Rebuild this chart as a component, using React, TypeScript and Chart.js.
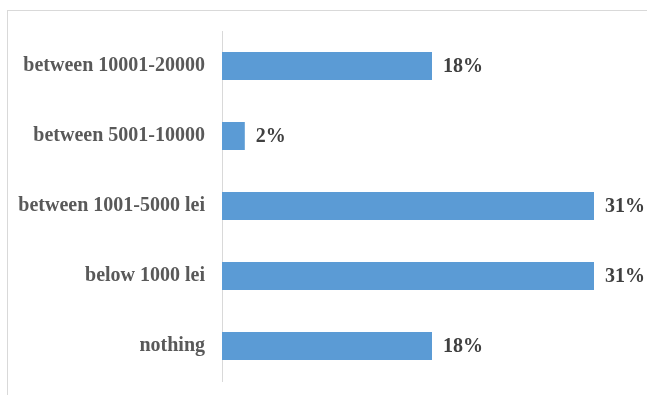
import React, { useEffect, useRef } from "react";
import { Chart, registerables } from "chart.js";

Chart.register(...registerables);

const categories = [
  "between 10001-20000",
  "between 5001-10000",
  "between 1001-5000 lei",
  "below 1000 lei",
  "nothing",
];
const values = [17.5, 1.9, 31.0, 31.0, 17.5];
const valueLabels = ["18%", "2%", "31%", "31%", "18%"];
const axisMax = 35;

const FONT = "'Liberation Serif', 'Times New Roman', serif";

const valueLabelPlugin = {
  id: "valueLabels",
  afterDatasetsDraw(chart: any) {
    const ctx = chart.ctx;
    const meta = chart.getDatasetMeta(0);
    ctx.save();
    ctx.font = `bold 20px ${FONT}`;
    ctx.fillStyle = "#404040";
    ctx.textAlign = "left";
    ctx.textBaseline = "middle";
    meta.data.forEach((bar: any, i: number) => {
      ctx.fillText(valueLabels[i], bar.x + 11, bar.y + 1);
    });
    ctx.restore();
  },
};

export default function App() {
  const canvasRef = useRef<HTMLCanvasElement | null>(null);

  useEffect(() => {
    document.body.style.margin = "0";
    document.body.style.overflow = "hidden";
    const canvas = canvasRef.current;
    if (!canvas) return;
    const chart = new Chart(canvas, {
      type: "bar",
      data: {
        labels: categories,
        datasets: [
          {
            data: values,
            backgroundColor: "#5B9BD5",
            borderWidth: 0,
            barPercentage: 0.4,
            categoryPercentage: 1,
          },
        ],
      },
      options: {
        indexAxis: "y",
        responsive: false,
        animation: false,
        devicePixelRatio: 1,
        layout: { padding: { top: 31, bottom: 14, left: 0, right: 5 } },
        plugins: {
          legend: { display: false },
          tooltip: { enabled: false },
        },
        scales: {
          x: {
            display: false,
            min: 0,
            max: axisMax,
          },
          y: {
            afterFit: (scale: any) => {
              scale.width = 222;
              scale.paddingTop = 0;
              scale.paddingBottom = 0;
            },
            grid: { display: false, drawTicks: false },
            border: { display: true, color: "#d9d9d9", width: 1 },
            ticks: {
              padding: 17,
              color: "#595959",
              font: {
                family: FONT,
                size: 20,
                weight: "bold",
              },
            },
          },
        },
      },
      plugins: [valueLabelPlugin],
    });
    return () => chart.destroy();
  }, []);

  return (
    <div>
      <div
        style={{
          position: "fixed",
          left: 7,
          top: 10,
          width: 660,
          height: 400,
          borderTop: "1px solid #d9d9d9",
          borderLeft: "1px solid #d9d9d9",
          boxSizing: "border-box",
        }}
      />
      <canvas
        ref={canvasRef}
        width={647}
        height={395}
        style={{ position: "fixed", left: 0, top: 0, width: 647, height: 395 }}
      />
    </div>
  );
}
